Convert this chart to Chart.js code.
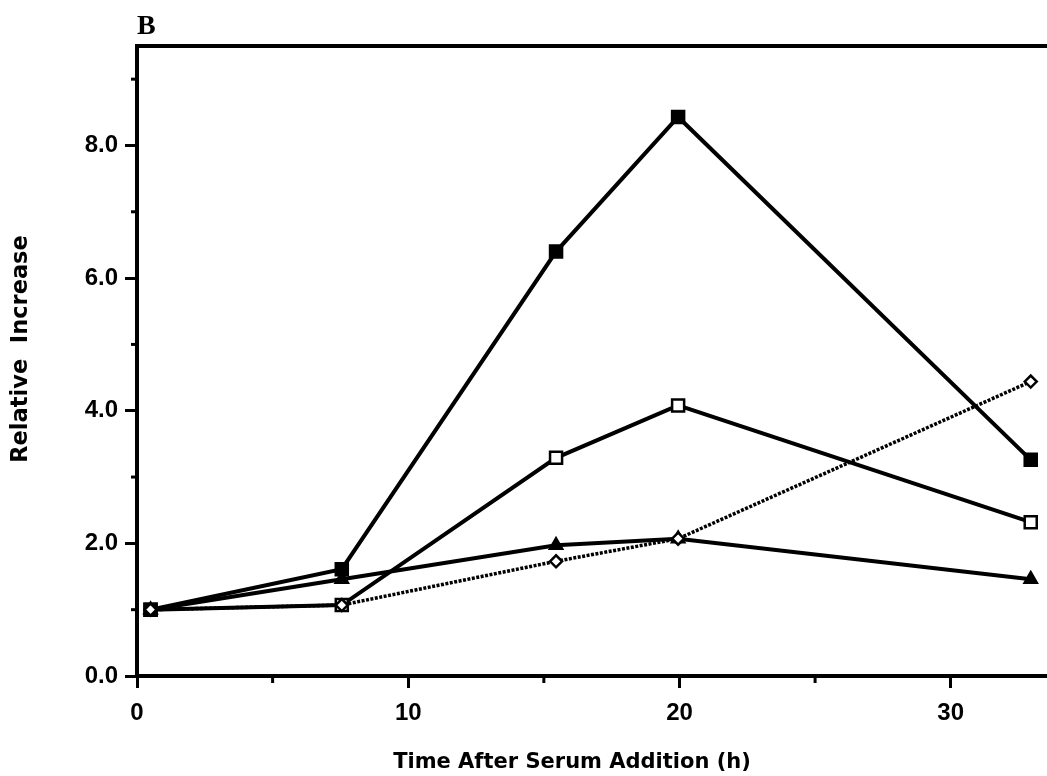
<!DOCTYPE html>
<html>
<head>
<meta charset="utf-8">
<script src="https://cdn.jsdelivr.net/npm/chart.js@4.4.1/dist/chart.umd.min.js"></script>
<style>
html,body{margin:0;padding:0;background:#fff;overflow:hidden;}
#wrap{position:relative;width:1047px;height:776px;}
</style>
</head>
<body>
<div id="wrap"><canvas id="c"></canvas></div>
<script>
// Data
const panelLabel = "B";
const xTitle = "Time After Serum Addition (h)";
const yTitle = "Relative  Increase";
const times = [0.5, 7.55, 15.45, 19.95, 32.95];
const filledSquare = [1.0, 1.61, 6.40, 8.43, 3.26];
const openSquare   = [1.0, 1.07, 3.29, 4.08, 2.32];
const triangle     = [1.0, 1.46, 1.97, 2.07, 1.46];
const diamond      = [1.0, 1.07, 1.73, 2.07, 4.44];
const xMajorTicks = [0, 10, 20, 30];
const xMinorTicks = [5, 15, 25];
const yMajorTicks = [0, 2, 4, 6, 8];
const yMinorTicks = [1, 3, 5, 7, 9];

function pts(vals){ return vals.map((v,i)=>({x:times[i], y:v})); }

const extras = {
  id: 'extras',
  afterDraw(chart){
    const {ctx, chartArea:a, scales} = chart;
    ctx.save();
    ctx.strokeStyle = '#000';
    // top border
    ctx.lineWidth = 4;
    ctx.beginPath(); ctx.moveTo(a.left-2, a.top); ctx.lineTo(a.right, a.top); ctx.stroke();
    // minor ticks
    ctx.lineWidth = 3;
    yMinorTicks.forEach(v=>{
      const y = scales.y.getPixelForValue(v);
      ctx.beginPath(); ctx.moveTo(a.left-6, y); ctx.lineTo(a.left, y); ctx.stroke();
    });
    xMinorTicks.forEach(v=>{
      const x = scales.x.getPixelForValue(v);
      ctx.beginPath(); ctx.moveTo(x, a.bottom); ctx.lineTo(x, a.bottom+7); ctx.stroke();
    });
    ctx.fillStyle = '#000';
    // panel label
    ctx.font = 'bold 28px "Liberation Serif", "DejaVu Serif", serif';
    ctx.textAlign = 'left'; ctx.textBaseline = 'alphabetic';
    ctx.fillText(panelLabel, 137, 34);
    // axis titles
    ctx.textAlign = 'center'; ctx.textBaseline = 'middle';
    ctx.font = 'bold 21px "DejaVu Sans", "Liberation Sans", sans-serif';
    ctx.fillText(xTitle, 572, 763);
    ctx.translate(21, 349);
    ctx.rotate(-Math.PI/2);
    ctx.font = 'bold 22.5px "DejaVu Sans", "Liberation Sans", sans-serif';
    ctx.fillText(yTitle, 0, 0);
    ctx.restore();
  }
};

const common = {borderColor:'#000', borderWidth:4, tension:0, pointBorderColor:'#000', pointBorderWidth:2.5, pointHoverRadius:0};
const tickFont = {family:'"Liberation Sans", Arial, sans-serif', size:24, weight:'bold'};

new Chart(document.getElementById('c'), {
  type: 'line',
  data: {
    datasets: [
      Object.assign({}, common, {label:'diamond', data: pts(diamond), borderDash:[3,1.5], borderWidth:3.5, pointStyle:'rectRot', pointRadius:6, pointBackgroundColor:'#fff', pointBorderWidth:2.5}),
      Object.assign({}, common, {label:'triangle', data: pts(triangle), pointStyle:'triangle', pointRadius:7, pointBackgroundColor:'#000'}),
      Object.assign({}, common, {label:'filled', data: pts(filledSquare), pointStyle:'rect', pointRadius:8.5, pointBackgroundColor:'#000'}),
      Object.assign({}, common, {label:'open', data: pts(openSquare), pointStyle:'rect', pointRadius:8.5, pointBackgroundColor:'#fff', pointBorderWidth:2.5})
    ]
  },
  options: {
    responsive: true,
    maintainAspectRatio: false,
    animation: false,
    events: [],
    layout: {autoPadding:false, padding:{top:46, right:0, left:0, bottom:0}},
    plugins: {legend:{display:false}, tooltip:{enabled:false}, title:{display:false}},
    scales: {
      x: {
        type:'linear', min:0, max:33.55,
        afterFit(s){ s.height = 100; s.paddingRight = 0; s.paddingLeft = 0; },
        border:{display:true, width:4, color:'#000'},
        grid:{drawOnChartArea:false, drawTicks:true, tickLength:12, tickWidth:3, tickColor:'#000'},
        afterBuildTicks(s){ s.ticks = xMajorTicks.map(v=>({value:v})); },
        ticks:{color:'#000', padding:11, font:tickFont, callback:v=>String(v), maxRotation:0, autoSkip:false},
        title:{display:false}
      },
      y: {
        type:'linear', min:0, max:9.5,
        afterFit(s){ s.width = 137; s.paddingTop = 0; s.paddingBottom = 0; },
        border:{display:true, width:4, color:'#000'},
        grid:{drawOnChartArea:false, drawTicks:true, tickLength:12, tickWidth:3, tickColor:'#000'},
        afterBuildTicks(s){ s.ticks = yMajorTicks.map(v=>({value:v})); },
        ticks:{color:'#000', padding:7, font:tickFont, callback:v=>v.toFixed(1), autoSkip:false},
        title:{display:false}
      }
    }
  },
  plugins:[extras]
});
</script>
</body>
</html>
